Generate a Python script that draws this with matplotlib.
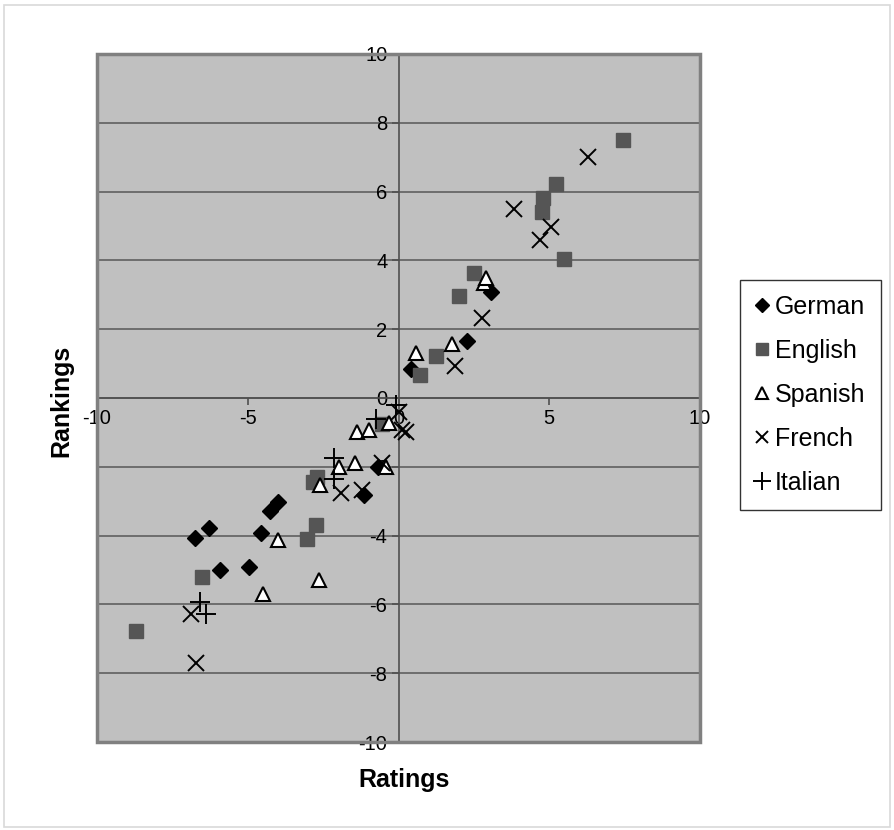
import matplotlib.pyplot as plt
from matplotlib.patches import Rectangle

plt.rcParams['font.family'] = ['Liberation Sans', 'DejaVu Sans']
plt.rcParams['axes.unicode_minus'] = False

# values
german_x = [-6.76, -6.29, -5.92, -4.96, -4.55, -4.26, -4.0, -1.15, -0.67, 0.40, 2.28, 3.07]
german_y = [-4.06, -3.77, -5.0, -4.9, -3.93, -3.28, -3.03, -2.82, -2.01, 0.83, 1.67, 3.07]

english_x = [-8.70, -6.52, -3.04, -2.73, -2.85, -2.70, -0.55, 0.70, 1.23, 2.02, 2.51,
             4.76, 4.78, 5.24, 5.49, 7.45]
english_y = [-6.76, -5.19, -4.10, -3.69, -2.45, -2.30, -0.77, 0.66, 1.22, 2.97, 3.63,
             5.41, 5.82, 6.23, 4.03, 7.51]

spanish_x = [-4.51, -4.0, -2.63, -2.6, -1.98, -1.44, -1.36, -0.99, -0.41, -0.3, 0.58, 1.76, 2.84, 2.89]
spanish_y = [-5.7, -4.13, -5.29, -2.53, -2.01, -1.88, -0.98, -0.93, -2.01, -0.72, 1.32, 1.56, 3.35, 3.48]

french_x = [-6.88, -6.7, -1.9, -1.2, -0.56, 0.0, 0.11, 0.25, 1.87, 2.77, 3.82, 4.68, 5.06, 6.28]
french_y = [-6.29, -7.71, -2.77, -2.67, -1.9, -0.40, -0.93, -0.98, 0.94, 2.33, 5.49, 4.58, 4.97, 7.01]

italian_x = [-6.6, -6.38, -2.15, -2.15, -0.74, -0.08]
italian_y = [-5.92, -6.28, -1.75, -2.36, -0.62, -0.2]

x_ticks = [-10, -5, 0, 5, 10]
y_ticks = list(range(-10, 11, 2))

fig = plt.figure(figsize=(8.94, 8.30), dpi=100)
ax = fig.add_axes([0.1085, 0.106, 0.6745, 0.829])
ax.set_facecolor('#c0c0c0')

# horizontal gridlines only
for t in y_ticks:
    ax.axhline(t, color='#5f5f5f', lw=1.2, zorder=1)

ax.plot(german_x, german_y, 'D', color='black', ms=8, ls='none', label='German', zorder=3)
ax.plot(english_x, english_y, 's', color='#555555', ms=10, ls='none', label='English', zorder=3)
ax.plot(spanish_x, spanish_y, '^', mfc='white', mec='black', mew=1.5, ms=10, ls='none',
        label='Spanish', zorder=3)
ax.plot(french_x, french_y, 'x', color='black', mew=1.4, ms=11, ls='none', label='French', zorder=3)
ax.plot(italian_x, italian_y, '+', color='black', mew=1.4, ms=15, ls='none', label='Italian', zorder=3)

ax.set_xlim(-10, 10)
ax.set_ylim(-10, 10)
ax.set_xticks(x_ticks)
ax.set_yticks(y_ticks)

# axes cross at the origin, Excel style
for s in ['left', 'bottom']:
    ax.spines[s].set_position(('data', 0))
    ax.spines[s].set_color('#505050')
    ax.spines[s].set_linewidth(1.2)
    ax.spines[s].set_zorder(2)
for s in ['top', 'right']:
    ax.spines[s].set_visible(False)
ax.add_patch(Rectangle((0, 0), 1, 1, transform=ax.transAxes, fill=False,
                       ec='#808080', lw=2.5, zorder=4, clip_on=False))

ax.tick_params(direction='out', length=5, width=1.2, color='#505050', labelsize=14.5, pad=3)

fig.text(0.452, 0.06, 'Ratings', ha='center', va='center', fontsize=18, fontweight='bold')
fig.text(0.069, 0.517, 'Rankings', ha='center', va='center', fontsize=18, fontweight='bold',
         rotation=90)

leg = fig.legend(loc='center left', bbox_to_anchor=(0.814, 0.524), fontsize=18,
                 frameon=True, fancybox=False, edgecolor='black', handlelength=0.55,
                 handletextpad=0.25, labelspacing=0.8, borderpad=0.6, markerscale=0.85)
leg.get_frame().set_linewidth(1.0)

fig.add_artist(Rectangle((0.004, 0.004), 0.992, 0.99, transform=fig.transFigure,
                         fill=False, ec='#d9d9d9', lw=1.2))

fig.savefig('out.png', dpi=100)
